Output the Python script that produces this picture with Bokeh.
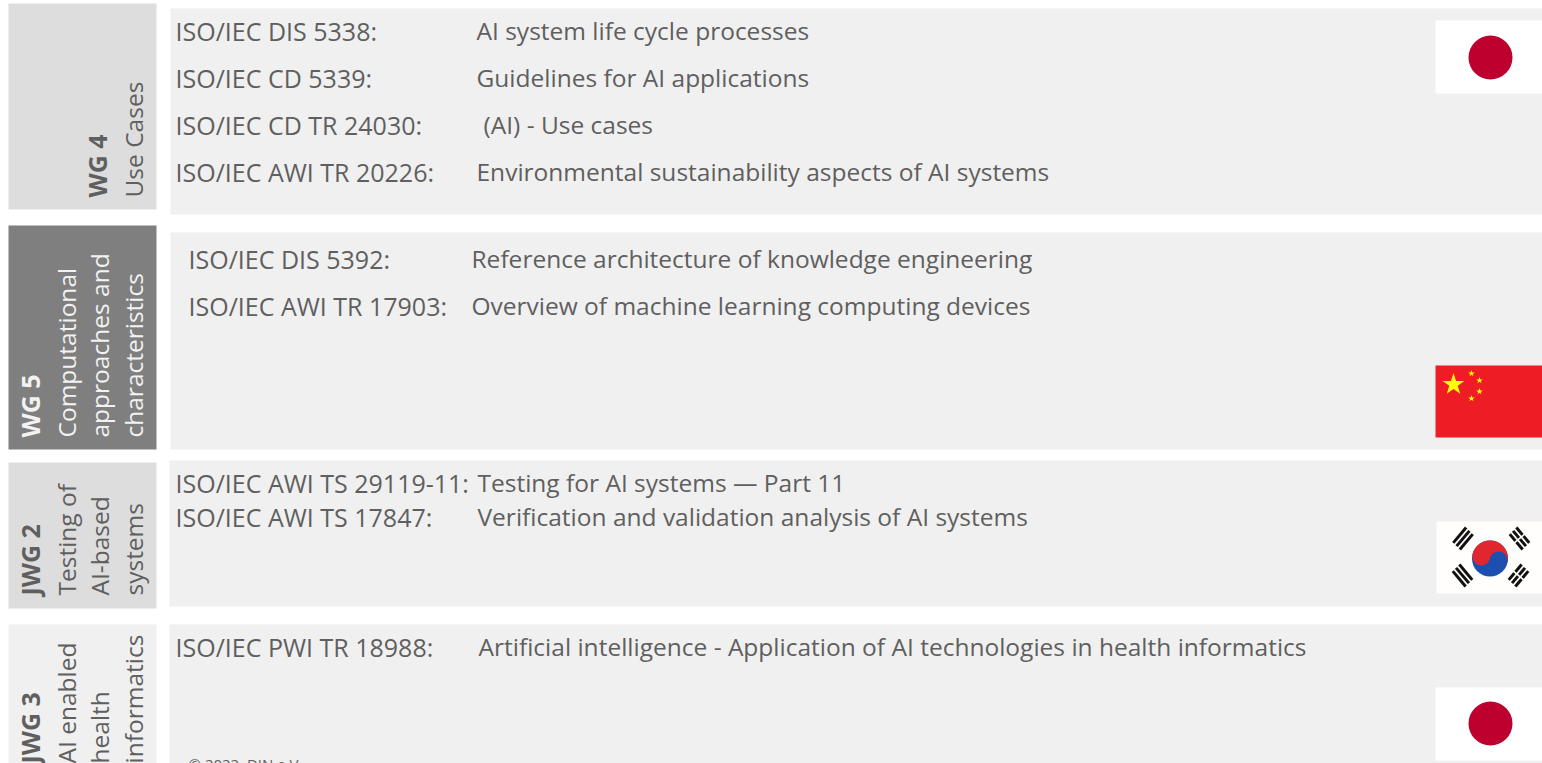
from math import pi
from bokeh.plotting import figure
from bokeh.models import Range1d
from bokeh.core.properties import value
from bokeh.embed import file_html
from bokeh.resources import INLINE

FONT = "Open Sans"
TXT = "#5F5F5F"

# group panels
group_names = ["WG 4", "WG 5", "JWG 2", "JWG 3"]
group_lines = [["Use Cases"],
               ["Computational", "approaches and", "characteristics"],
               ["Testing of", "AI-based", "systems"],
               ["AI enabled", "health", "informatics"]]
group_fill = ["#DDDDDD", "#7F7F7F", "#DDDDDD", "#F0F0F0"]
group_text = [TXT, "#F2F2F2", TXT, TXT]
group_top = [3, 225, 462, 624]
group_bottom = [209, 449, 608, 763]
group_start = [197, 437, 595, 763]
group_name_base = [106, 39, 39, 39]
group_line_base = [[142], [75, 108, 142], [75, 108, 142], [75, 108, 142]]

# detail panels
panel_left = [170, 170, 169, 169]
panel_top = [8, 232, 460, 624]
panel_bottom = [214, 449, 606, 763]

# documents
doc_ids = ["ISO/IEC DIS 5338:", "ISO/IEC CD 5339:", "ISO/IEC CD TR 24030:", "ISO/IEC AWI TR 20226:",
           "ISO/IEC DIS 5392:", "ISO/IEC AWI TR 17903:",
           "ISO/IEC AWI TS 29119-11:", "ISO/IEC AWI TS 17847:",
           "ISO/IEC PWI TR 18988:"]
doc_titles = ["AI system life cycle processes", "Guidelines for AI applications", "(AI) - Use cases",
              "Environmental sustainability aspects of AI systems",
              "Reference architecture of knowledge engineering", "Overview of machine learning computing devices",
              "Testing for AI systems \u2014 Part 11", "Verification and validation analysis of AI systems",
              "Artificial intelligence - Application of AI technologies in health informatics"]
doc_id_x = [175, 175, 175, 175, 188, 188, 175, 175, 175]
doc_title_x = [476, 476, 483, 476, 471, 471, 477, 477, 478]
doc_base = [39.5, 86.5, 133.5, 180.5, 267.5, 314.5, 491.5, 525.5, 655.5]

footer = "\u00a9 2022, DIN e.V."

p = figure(width=1542, height=763, output_backend="svg", toolbar_location=None,
           x_range=Range1d(0, 1542), y_range=Range1d(763, 0),
           min_border=0, outline_line_color=None)
p.axis.visible = False
p.grid.visible = False
p.background_fill_color = "white"

p.quad(left=[8] * 4, right=[156] * 4, top=group_top, bottom=group_bottom,
       fill_color=group_fill, line_color=None)
p.quad(left=panel_left, right=[1542] * 4, top=panel_top, bottom=panel_bottom,
       fill_color="#F0F0F0", line_color=None)

FS = "24.5px"
SHIFT = -9.5
common = dict(text_font=value(FONT), text_baseline="alphabetic", text_align="left")
p.text(x=doc_id_x, y=doc_base, text=doc_ids, text_font_size="25px", text_color=TXT, y_offset=SHIFT, **common)
p.text(x=doc_title_x, y=doc_base, text=doc_titles, text_font_size=FS, text_color=TXT, y_offset=SHIFT, **common)

for name, lines, col, start, nb, lb in zip(group_names, group_lines, group_text, group_start,
                                           group_name_base, group_line_base):
    p.text(x=[nb], y=[start], text=[name], angle=pi / 2, text_font_size="25px", text_font_style="bold",
           text_color=col, x_offset=SHIFT, **common)
    p.text(x=lb, y=[start] * len(lb), text=lines, angle=pi / 2, text_font_size=FS, text_color=col,
           x_offset=SHIFT, **common)

p.text(x=[188], y=[768.5], text=[footer], text_font_size="15px", text_color=TXT, y_offset=-5, **common)

# flags
JP = "#BE002E"
for top, cy in [(20, 57), (687, 723)]:
    p.quad(left=[1435], right=[1542], top=[top], bottom=[top + 73], fill_color="white", line_color=None)
    p.circle(x=[1490], y=[cy], radius=22, fill_color=JP, line_color=None)

# China
p.quad(left=[1435], right=[1542], top=[365], bottom=[437], fill_color="#EE1C25", line_color=None)
p.scatter(x=[1453], y=[384], marker="star", size=23, fill_color="#FFFF00", line_color=None)
p.scatter(x=[1471, 1479, 1479, 1471], y=[373, 380, 391, 398], marker="star", size=7,
          fill_color="#FFFF00", line_color=None)

# Korea
p.quad(left=[1436], right=[1542], top=[521], bottom=[593], fill_color="#FFFEFC", line_color=None)
p.circle(x=[1489.5], y=[558], radius=18, fill_color="#1C4FB0", line_color=None)
p.wedge(x=[1489.5], y=[558], radius=18, start_angle=-0.2, end_angle=pi - 0.2, direction="anticlock",
        fill_color="#E0262E", line_color=None)
p.circle(x=[1481], y=[556], radius=9, fill_color="#E0262E", line_color=None)
p.circle(x=[1498], y=[560], radius=9, fill_color="#1C4FB0", line_color=None)
A = 0.87
bar_x = [1459.2, 1462.5, 1465.8, 1515.7, 1519, 1522.3, 1458.7, 1462, 1465.3, 1514.7, 1518, 1521.3]
bar_y = [534.7, 538, 541.3, 541.3, 538, 534.7, 578.3, 575, 571.7, 571.7, 575, 578.3]
bar_a = [A] * 3 + [-A] * 3 + [-A] * 3 + [A] * 3
p.rect(x=bar_x, y=bar_y, width=20, height=3, angle=bar_a, fill_color="#111111", line_color=None)
# breaks of the right-hand trigrams
p.rect(x=[1519, 1518], y=[538, 575], width=1.6, height=19, angle=[-A, A],
       fill_color="#FFFEFC", line_color=None)

open("out.html", "w").write(file_html(p, INLINE))
